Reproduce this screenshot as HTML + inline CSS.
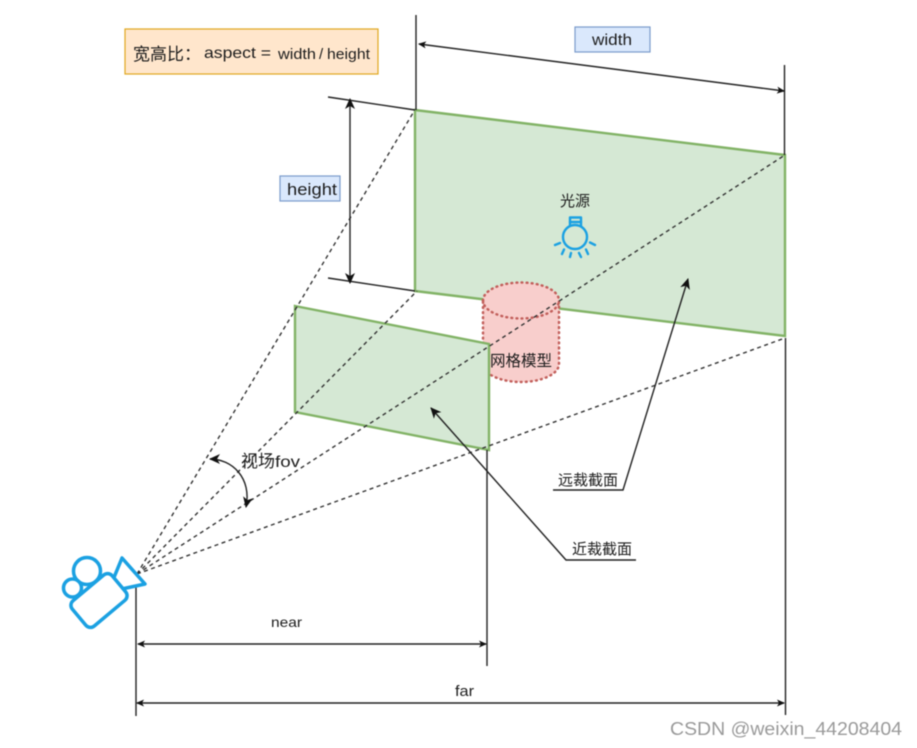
<!DOCTYPE html>
<html>
<head>
<meta charset="utf-8">
<style>
html,body{margin:0;padding:0;background:#fff;}
svg{display:block;filter:blur(0.45px);}
text{font-family:"Liberation Sans","Noto Sans CJK SC",sans-serif;fill:#1c1c1c;}
</style>
</head>
<body>
<svg xmlns="http://www.w3.org/2000/svg" width="917" height="748" viewBox="0 0 917 748">
<defs>
<marker id="a" markerWidth="12" markerHeight="10" refX="7" refY="4" orient="auto-start-reverse" markerUnits="userSpaceOnUse">
<path d="M0,0.500 L8,4 L0,7.500 L2,4 Z" fill="#111"/>
</marker>
<marker id="b" markerWidth="14" markerHeight="12" refX="10" refY="5.500" orient="auto-start-reverse" markerUnits="userSpaceOnUse">
<path d="M0,0.500 L11,5.500 L0,10.500 L3,5.500 Z" fill="#111"/>
</marker>
</defs>
<rect width="917" height="748" fill="#fff"/>

<!-- far plane -->
<polygon points="415,110 785,155 785,336 415,291" fill="#d5e8d4" stroke="#82b366" stroke-width="2.400"/>

<!-- cylinder -->
<g fill="#f8cecc" stroke="#c25f5b" stroke-width="2.500" stroke-dasharray="0.800 4.300" stroke-linecap="round">
<path d="M483,300.500 A38,18 0 0 1 559,300.500 V364 A38,18 0 0 1 483,364 Z"/>
<path d="M483,300.500 A38,18 0 0 0 559,300.500" fill="none"/>
</g>

<!-- near plane -->
<polygon points="295,306 489,344 489,450 295,412" fill="#d5e8d4" stroke="#82b366" stroke-width="2.400"/>

<!-- dashed frustum -->
<g stroke="#333" stroke-width="1.400" stroke-dasharray="4 3.500" fill="none">
<line x1="137" y1="574" x2="413" y2="113"/>
<line x1="137" y1="574" x2="417" y2="291"/>
<line x1="137" y1="574" x2="785" y2="155"/>
<line x1="137" y1="574" x2="785" y2="338"/>
</g>

<!-- solid guides -->
<g stroke="#222" stroke-width="1.400" fill="none">
<line x1="416" y1="15" x2="416" y2="110"/>
<line x1="784.500" y1="65" x2="784.500" y2="155"/>
<line x1="785.500" y1="338" x2="785.500" y2="715"/>
<line x1="487" y1="450" x2="487" y2="666"/>
<line x1="136" y1="574" x2="136" y2="716"/>
<line x1="328" y1="97" x2="415" y2="110"/>
<line x1="328" y1="278" x2="415" y2="291"/>
<line x1="350" y1="99" x2="350" y2="283" marker-start="url(#b)" marker-end="url(#b)"/>
<line x1="419" y1="44" x2="784" y2="91" marker-start="url(#a)" marker-end="url(#a)"/>
<line x1="138" y1="644" x2="486" y2="644" marker-start="url(#a)" marker-end="url(#a)"/>
<line x1="137" y1="703" x2="784" y2="703" marker-start="url(#a)" marker-end="url(#a)"/>
<polyline points="553,490 623,490 688,279" marker-end="url(#b)"/>
<polyline points="636,560 566,560 431,408" marker-end="url(#b)"/>
<path d="M210,459 C232,459 252,478 246,507" marker-start="url(#b)" marker-end="url(#b)"/>
</g>

<!-- label boxes -->
<rect x="125" y="29" width="253" height="45" fill="#ffe6cc" stroke="#e0a820" stroke-width="1.200"/>
<text x="133" y="60" font-size="17">宽高比：</text>
<text x="204" y="58" font-size="16" textLength="67" lengthAdjust="spacingAndGlyphs">aspect =</text>
<text x="278" y="59" font-size="15" textLength="38" lengthAdjust="spacingAndGlyphs">width</text>
<text x="319" y="59" font-size="15">/</text>
<text x="327" y="59" font-size="15" textLength="43" lengthAdjust="spacingAndGlyphs">height</text>
<rect x="575" y="27" width="75" height="25" fill="#dae8fc" stroke="#7b9bcb" stroke-width="1.200"/>
<text x="592" y="45" font-size="16" textLength="40" lengthAdjust="spacingAndGlyphs">width</text>
<rect x="280" y="176" width="60" height="25" fill="#dae8fc" stroke="#7b9bcb" stroke-width="1.200"/>
<text x="287" y="195" font-size="17" textLength="50" lengthAdjust="spacingAndGlyphs">height</text>

<!-- labels -->
<text x="575" y="206" font-size="15" text-anchor="middle">光源</text>
<text x="521" y="366" font-size="15.500" text-anchor="middle">网格模型</text>
<text x="241" y="467" font-size="17">视场</text>
<text x="275" y="467" font-size="16" textLength="25" lengthAdjust="spacingAndGlyphs">fov</text>
<text x="271" y="627" font-size="14" textLength="31" lengthAdjust="spacingAndGlyphs">near</text>
<text x="455" y="696" font-size="14.500" textLength="19" lengthAdjust="spacingAndGlyphs">far</text>
<text x="588" y="485" font-size="15" text-anchor="middle">远裁截面</text>
<text x="602" y="554" font-size="15" text-anchor="middle">近裁截面</text>

<!-- bulb -->
<g fill="none" stroke="#1ba1e2" stroke-width="2.400" stroke-linecap="round" stroke-linejoin="round">
<circle cx="575" cy="237" r="12"/>
<path d="M570,226 V217.500 H581 V226"/>
<line x1="570" y1="222" x2="581" y2="222"/>
<line x1="555" y1="245" x2="560" y2="243"/>
<line x1="595" y1="245" x2="590" y2="242.500"/>
<line x1="564" y1="249.500" x2="562" y2="254"/>
<line x1="586" y1="249.500" x2="588" y2="254"/>
<line x1="571" y1="253" x2="570" y2="257"/>
<line x1="579" y1="253" x2="581" y2="257"/>
</g>

<!-- camera -->
<g fill="#fff" stroke="#1ba1e2" stroke-width="3.500" stroke-linejoin="round">
<polygon points="122,558 145,584 108,592"/>
<circle cx="87" cy="571" r="13.500"/>
<circle cx="72.500" cy="588" r="9"/>
<rect x="73" y="584" width="52" height="33" rx="6" transform="rotate(-40 99 600.500)"/>
</g>

<!-- watermark -->
<text x="670" y="735" font-size="18" textLength="232" lengthAdjust="spacingAndGlyphs" style="fill:#9a9a9a">CSDN @weixin_44208404</text>
</svg>
</body>
</html>
